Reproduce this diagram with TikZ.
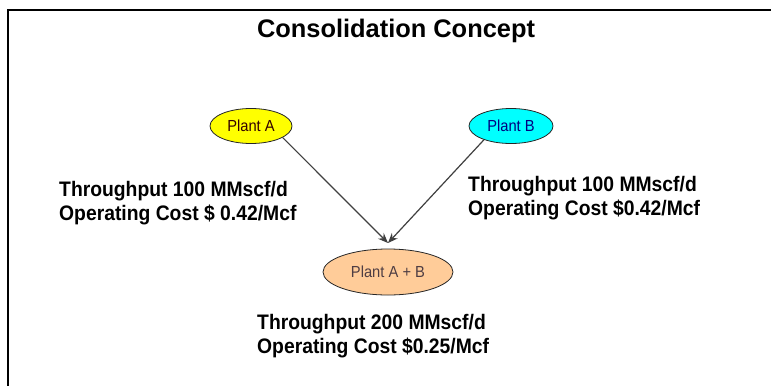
\documentclass[tikz,border=0pt]{standalone}
\usepackage{fontspec}
\setmainfont{Liberation Sans}
\newfontfamily\condsans[FakeStretch=0.92]{Liberation Sans}
\usetikzlibrary{shapes.geometric,arrows.meta}
\definecolor{peach}{HTML}{FFCC99}
\definecolor{plainyellow}{HTML}{FFFF00}
\definecolor{plaincyan}{HTML}{00FFFF}
\definecolor{edgegray}{HTML}{404040}
\tikzset{
  frameline/.style={line width=2.2pt, black},
  plant/.style={ellipse, draw=black!85, line width=0.8pt, inner sep=0pt,
    minimum height=35pt, font=\condsans\fontsize{16}{18}\selectfont},
  infotext/.style={align=left, inner sep=0pt, anchor=north west,
    font=\condsans\fontsize{21}{24}\selectfont\bfseries},
  flow/.style={draw=edgegray, line width=1.2pt, -{Stealth[length=10pt,width=8pt]}},
  titletext/.style={inner sep=0pt, anchor=base, font=\fontsize{25.4}{30}\selectfont\bfseries}
}
\begin{document}
\begin{tikzpicture}[x=1pt,y=1pt]
\useasboundingbox (0,0) rectangle (771,-386);
\fill[white] (0,0) rectangle (771,-386);
% frame (top and left edges)
\draw[frameline] (771,-10) -- (8,-10) -- (8,-386);
% title
\node[titletext] (title) at (396,-37) {Consolidation Concept};
% plants
\node[plant, fill=plainyellow, minimum width=82pt, text=black!80!red] (A) at (251,-126) {Plant A};
\node[plant, fill=plaincyan, minimum width=84pt, text=blue!50!black] (B) at (511,-126) {Plant B};
\node[plant, fill=peach, minimum width=130pt, minimum height=46pt, text=black!80!magenta] (AB) at (388,-272) {Plant A + B};
\coordinate (tip) at (388,-243);
% arrows
\draw[flow] (A.-20) -- (tip);
\draw[flow] (B.-153) -- (tip);
% info texts
\node[infotext] (infoA) at (59,-181.5) {Throughput 100 MMscf/d\\Operating Cost \$ 0.42/Mcf};
\node[infotext] (infoB) at (468,-176.5) {Throughput 100 MMscf/d\\Operating Cost \$0.42/Mcf};
\node[infotext] (infoAB) at (257,-314.5) {Throughput 200 MMscf/d\\Operating Cost \$0.25/Mcf};
\end{tikzpicture}
\end{document}
